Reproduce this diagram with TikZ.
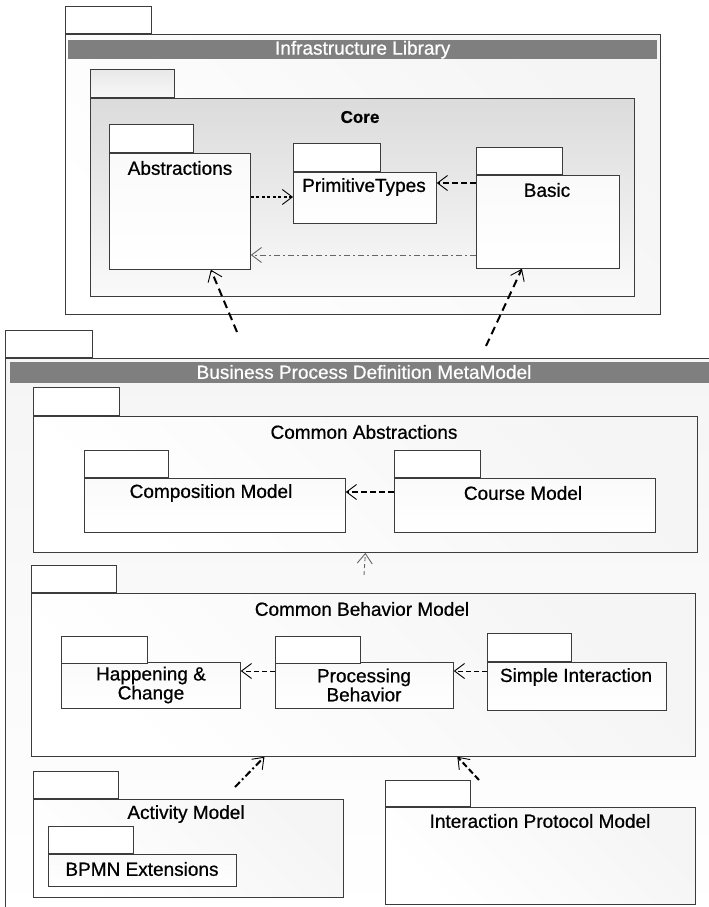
\documentclass[tikz,border=0pt]{standalone}
\usepackage{fontspec}
\setmainfont[FakeBold=0.7]{Liberation Sans}
\usetikzlibrary{arrows.meta}
\definecolor{barGray}{HTML}{7F7F7F}
\definecolor{edgeGray}{HTML}{3C3C3C}
\begin{document}
\begin{tikzpicture}[x=1pt,y=-1pt,
  pkg/.style={draw=edgeGray, line width=0.8pt, anchor=north west, inner sep=0pt,
    top color=black!4, bottom color=white, shading angle=-45},
  innerpkg/.style={pkg, top color=black!2},
  corepkg/.style={pkg, top color=black!14, bottom color=black!2},
  tabbox/.style={draw=edgeGray, line width=0.8pt, anchor=south west, inner sep=0pt,
    fill=white, minimum width=86pt, minimum height=27pt},
  bar/.style={fill=barGray, anchor=north west, inner sep=0pt, text=white,
    font=\fontsize{19}{19}\selectfont},
  lbl/.style={font=\fontsize{19}{19}\selectfont, inner sep=0pt, align=center},
  boldlbl/.style={font=\fontsize{17}{17}\selectfont\bfseries, inner sep=0pt},
  tipV/.style={-{Straight Barb[length=10pt,width=15pt,line width=0.9pt]}},
  dotdep/.style={tipV, line width=2.2pt, dash pattern=on 3pt off 2.5pt},
  thickdep/.style={tipV, line width=2pt, dash pattern=on 6pt off 3pt},
  longdep/.style={tipV, line width=2pt, dash pattern=on 8pt off 5pt},
  dashdotdep/.style={tipV, line width=2pt, dash pattern=on 7pt off 3pt on 2pt off 3pt},
  thindep/.style={tipV, line width=0.9pt, dash pattern=on 5pt off 3pt},
  greydep/.style={tipV, draw=black!60, line width=0.9pt, dash pattern=on 6pt off 3pt on 2pt off 3pt}
]
\useasboundingbox (0,0) rectangle (709,907);
\fill[white] (0,0) rectangle (709,907);

% ---------------- Infrastructure Library ----------------
\node[pkg, minimum width=595pt, minimum height=280pt] (infra) at (65,34) {};
\node[tabbox] (infratab) at (infra.north west) {};
\node[bar, minimum width=589pt, minimum height=19pt] (infrabar) at (68,40) {Infrastructure Library};

\node[corepkg, minimum width=544pt, minimum height=198pt] (core) at (90,98) {};
\node[tabbox, minimum width=84pt, minimum height=28pt, top color=black!9, bottom color=black!3] (coretab) at (core.north west) {};
\node[boldlbl] (coretitle) at (360,117) {Core};

\node[innerpkg, minimum width=141pt, minimum height=116pt] (abs) at (109,153) {};
\node[tabbox, minimum width=84pt, minimum height=28pt] (abstab) at (abs.north west) {};
\node[lbl] (abstext) at (180,168) {Abstractions};

\node[innerpkg, minimum width=143pt, minimum height=51pt] (prim) at (293,172) {};
\node[tabbox, minimum width=87pt, minimum height=28pt] (primtab) at (prim.north west) {};
\node[lbl] (primtext) at (364,187) {PrimitiveTypes};

\node[innerpkg, minimum width=143pt, minimum height=93pt] (basic) at (476,175) {};
\node[tabbox] (basictab) at (basic.north west) {};
\node[lbl] (basictext) at (547,190) {Basic};

% dependencies inside Core
\draw[dotdep] (abs.east |- 0,197) -- (prim.west |- 0,197);
\draw[thickdep] (basic.west |- 0,183) -- (prim.east |- 0,183);
\draw[greydep] (basic.west |- 0,255) -- (abs.east |- 0,255);

% ---------------- Business Process Definition MetaModel ----------------
\node[pkg, minimum width=720pt, minimum height=560pt, top color=black!4] (bpdm) at (5,358) {};
\node[tabbox, minimum width=87pt] (bpdmtab) at (bpdm.north west) {};
\node[bar, minimum width=710pt, minimum height=21pt] (bpdmbar) at (10,362) {};
\node[lbl, text=white] (bpdmtext) at (364,372) {Business Process Definition MetaModel};

% dependencies to the Infrastructure Library
\coordinate (absfoot) at (237,332);
\coordinate (basicfoot) at (486,346);
\draw[longdep] (absfoot) -- ([xshift=31pt]abs.south);
\draw[longdep] (basicfoot) -- ([xshift=-26pt]basic.south);

% Common Abstractions
\node[pkg, minimum width=664pt, minimum height=136pt] (ca) at (33,416) {};
\node[tabbox, minimum height=28pt] (catab) at (ca.north west) {};
\node[lbl] (catitle) at (364,432) {Common Abstractions};

\node[innerpkg, minimum width=261pt, minimum height=54pt] (comp) at (84,478) {};
\node[tabbox, minimum width=84pt] (comptab) at (comp.north west) {};
\node[lbl] (comptext) at (211,493) {Composition Model};

\node[innerpkg, minimum width=261pt, minimum height=54pt] (course) at (394,478) {};
\node[tabbox] (coursetab) at (course.north west) {};
\node[lbl] (coursetext) at (523,493) {Course Model};

\draw[thickdep] (course.west |- 0,492) -- (comp.east |- 0,492);

% Common Behavior Model
\node[pkg, minimum width=664pt, minimum height=163pt] (cbm) at (31,593) {};
\node[tabbox, minimum width=85pt] (cbmtab) at (cbm.north west) {};
\node[lbl] (cbmtitle) at (362,609) {Common Behavior Model};

\coordinate (cbmfoot) at (364,575);
\draw[greydep, dash pattern=on 4pt off 3pt] (cbmfoot) -- (ca.south);

\node[innerpkg, minimum width=179pt, minimum height=46pt] (hc) at (61,662) {};
\node[tabbox] (hctab) at ([yshift=-2pt]hc.north west) {};
\node[lbl] (hctext) at (151,685) {Happening \&\\Change};

\node[innerpkg, minimum width=178pt, minimum height=46pt] (pb) at (275,662) {};
\node[tabbox, minimum width=85pt] (pbtab) at ([yshift=-2pt]pb.north west) {};
\node[lbl] (pbtext) at (364,685) {Processing\\Behavior};

\node[innerpkg, minimum width=179pt, minimum height=48pt] (si) at (487,662) {};
\node[tabbox, minimum width=84pt, minimum height=28pt] (sitab) at (si.north west) {};
\node[lbl] (sitext) at (576,677) {Simple Interaction};

\draw[thindep] (pb.west |- 0,671) -- (hc.east |- 0,671);
\draw[thindep] (si.west |- 0,671) -- (pb.east |- 0,671);

% Activity Model
\node[pkg, minimum width=310pt, minimum height=98pt] (am) at (33,799) {};
\node[tabbox, minimum width=85pt] (amtab) at (am.north west) {};
\node[lbl] (amtitle) at (186,814) {Activity Model};

\node[innerpkg, minimum width=188pt, minimum height=32pt] (bpmn) at (48,854) {};
\node[tabbox, minimum width=85pt] (bpmntab) at (bpmn.north west) {};
\node[lbl] (bpmntext) at (142,869) {BPMN Extensions};

% Interaction Protocol Model
\node[pkg, minimum width=310pt, minimum height=97pt] (ipm) at (385,807) {};
\node[tabbox, minimum width=85pt, minimum height=26pt] (ipmtab) at (ipm.north west) {};
\node[lbl] (ipmtext) at (540,821) {Interaction Protocol Model};

% dependencies to the Common Behavior Model
\coordinate (amhead) at (235,787);
\coordinate (ipmhead) at (479,780);
\draw[dashdotdep] (amhead) -- ([xshift=-99pt]cbm.south);
\draw[thickdep] (ipmhead) -- ([xshift=94pt]cbm.south);
\end{tikzpicture}
\end{document}
